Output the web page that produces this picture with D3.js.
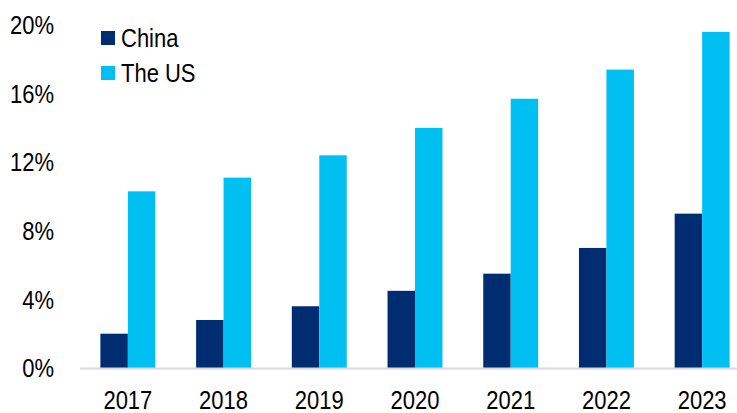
<!DOCTYPE html>
<html>
<head>
<meta charset="utf-8">
<script src="https://cdn.jsdelivr.net/npm/d3@7"></script>
<style>
  html, body { margin: 0; padding: 0; background: #ffffff; }
  svg { display: block; }
  text { font-family: "Liberation Sans", Arial, sans-serif; fill: #000000; }
</style>
</head>
<body>
<svg id="chart" width="737" height="413"></svg>
<script>
// Annual share values (%) for each market
const years = ["2017", "2018", "2019", "2020", "2021", "2022", "2023"];
const seriesNames = ["China", "The US"];
const chinaValues = [2.0, 2.8, 3.6, 4.5, 5.5, 7.0, 9.0];
const usValues = [10.3, 11.1, 12.4, 14.0, 15.7, 17.4, 19.6];
const yTicks = [0, 4, 8, 12, 16, 20];
const seriesColors = ["#002D72", "#00BFF3"];

const svg = d3.select("#chart");
const W = 737, H = 413;

const x = d3.scaleBand().domain(years).range([80, 750])
  .paddingInner(0.426).paddingOuter(0.213);
const xSub = d3.scaleBand().domain(seriesNames).range([0, x.bandwidth()]);
const y = d3.scaleLinear().domain([0, 20]).range([368, 25]);

const rows = years.map((yr, i) => ({ year: yr, values: [chinaValues[i], usValues[i]] }));

// Bars
const groups = svg.append("g").selectAll("g").data(rows).join("g")
  .attr("transform", d => `translate(${x(d.year)},0)`);
groups.selectAll("rect")
  .data(d => d.values.map((v, k) => ({ name: seriesNames[k], value: v, k })))
  .join("rect")
  .attr("x", d => xSub(d.name))
  .attr("width", xSub.bandwidth())
  .attr("y", d => y(d.value))
  .attr("height", d => y(0) - y(d.value))
  .attr("fill", d => seriesColors[d.k]);

// Baseline
svg.append("line")
  .attr("x1", 80).attr("x2", W)
  .attr("y1", y(0) + 0.5).attr("y2", y(0) + 0.5)
  .attr("stroke", "#d9d9d9").attr("stroke-width", 2);

// Slightly condensed labels
const FS = 25, SX = 0.88;

// Y axis labels
const yAxis = d3.axisLeft(y).tickValues(yTicks).tickFormat(d => d + "%").tickSize(0);
const yg = svg.append("g").attr("transform", "translate(54,0)").call(yAxis);
yg.select(".domain").remove();
yg.selectAll(".tick text")
  .attr("x", 0).attr("dy", "0.35em")
  .attr("font-size", FS)
  .attr("font-family", "Liberation Sans, Arial, sans-serif")
  .attr("fill", "#000")
  .attr("text-anchor", "end")
  .attr("transform", `scale(${SX},1)`);

// X axis labels
const xAxis = d3.axisBottom(x).tickSize(0);
const xg = svg.append("g").attr("transform", "translate(0,409)").call(xAxis);
xg.select(".domain").remove();
xg.selectAll(".tick text")
  .attr("y", 0).attr("dy", 0)
  .attr("font-size", FS)
  .attr("font-family", "Liberation Sans, Arial, sans-serif")
  .attr("fill", "#000")
  .attr("transform", `scale(${SX},1)`);

// Legend
const legend = svg.append("g").selectAll("g").data(seriesNames).join("g")
  .attr("transform", (d, i) => `translate(101,${31 + i * 35})`);
legend.append("rect")
  .attr("width", 14).attr("height", 14)
  .attr("fill", (d, i) => seriesColors[i]);
legend.append("text")
  .attr("transform", `translate(20,15.5) scale(${SX},1)`)
  .attr("font-size", FS)
  .text(d => d);
</script>
</body>
</html>
